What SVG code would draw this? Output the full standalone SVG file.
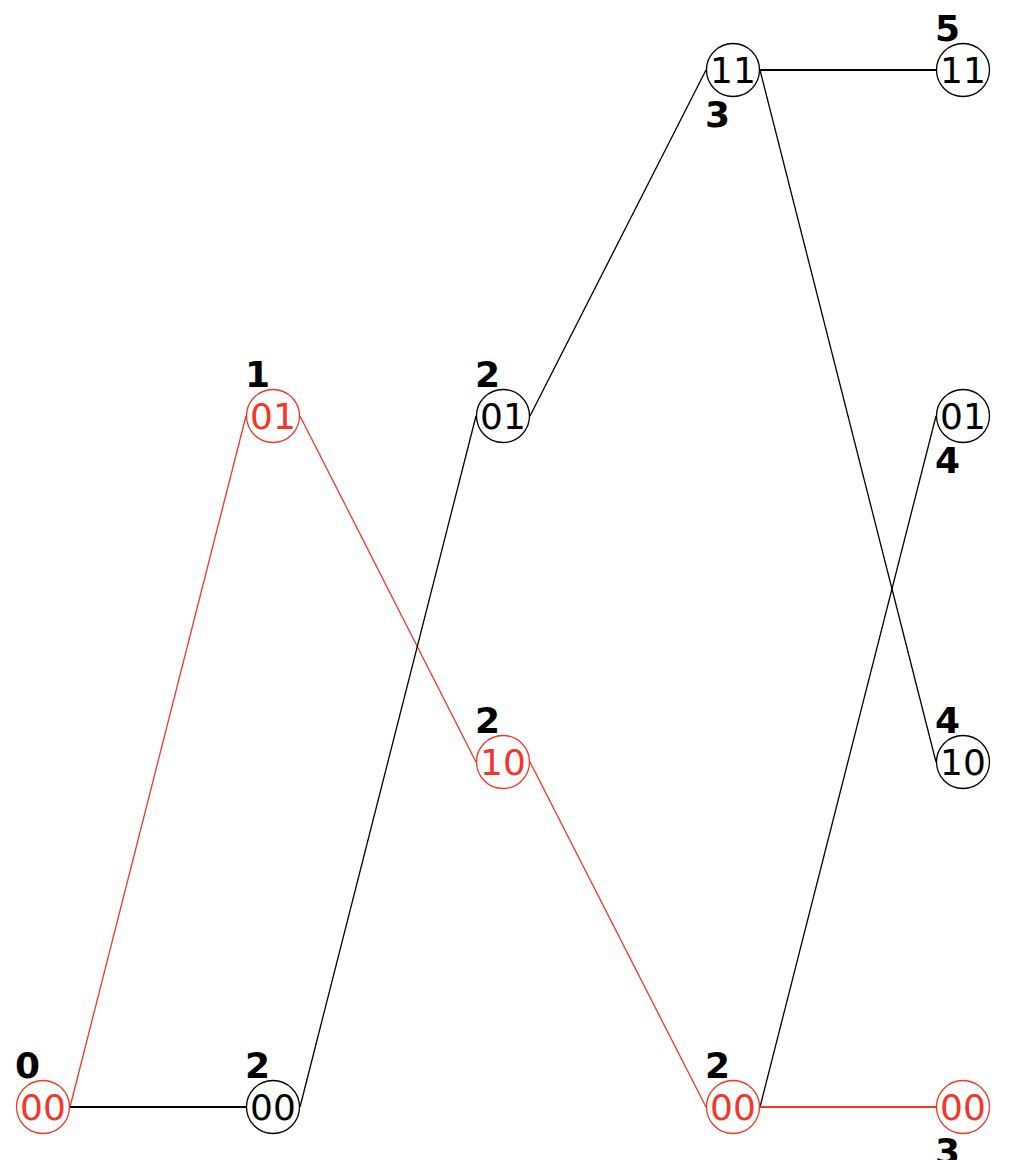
<svg xmlns="http://www.w3.org/2000/svg" width="1012" height="1160" viewBox="0 0 1012 1160">
<style>
.n{fill:#fff;stroke:#000;stroke-width:1.3}
.n.r{stroke:#f4362a}
.t{font-family:"DejaVu Sans",sans-serif;font-size:36px;text-anchor:middle;fill:#000}
.t.r{fill:#f4362a}
.l{font-family:"DejaVu Sans",sans-serif;font-size:36px;font-weight:bold;fill:#000}
.e{stroke:#000;stroke-width:1.3;fill:none}
.e.r{stroke:#f4362a}
.h{stroke-width:2.2}
</style>
<rect width="1012" height="1160" fill="#fff"/>
<g id="connectors">
<line class="e r" x1="70" y1="1107" x2="246" y2="416"/>
<line class="e h" x1="70" y1="1107" x2="246" y2="1107"/>
<line class="e r" x1="300" y1="416" x2="476" y2="762"/>
<line class="e" x1="300" y1="1107" x2="476" y2="416"/>
<line class="e" x1="530" y1="416" x2="706" y2="70"/>
<line class="e r" x1="530" y1="762" x2="706" y2="1107"/>
<line class="e h" x1="760" y1="70" x2="936" y2="70"/>
<line class="e" x1="760" y1="70" x2="936" y2="762"/>
<line class="e" x1="760" y1="1107" x2="936" y2="416"/>
<line class="e r h" x1="760" y1="1107" x2="936" y2="1107"/>
</g>
<g id="n0_00"><circle class="n r" cx="43" cy="1107" r="26.5"/><text class="t r" x="43" y="1120">00</text><text class="l" x="15" y="1078">0</text></g>
<g id="n1_01"><circle class="n r" cx="273" cy="416" r="26.5"/><text class="t r" x="273" y="429">01</text><text class="l" x="245" y="387">1</text></g>
<g id="n1_00"><circle class="n" cx="273" cy="1107" r="26.5"/><text class="t" x="273" y="1120">00</text><text class="l" x="245" y="1078">2</text></g>
<g id="n2_01"><circle class="n" cx="503" cy="416" r="26.5"/><text class="t" x="503" y="429">01</text><text class="l" x="475" y="387">2</text></g>
<g id="n2_10"><circle class="n r" cx="503" cy="762" r="26.5"/><text class="t r" x="503" y="775">10</text><text class="l" x="475" y="733">2</text></g>
<g id="n3_11"><circle class="n" cx="733" cy="70" r="26.5"/><text class="t" x="733" y="83">11</text><text class="l" x="705" y="127">3</text></g>
<g id="n3_00"><circle class="n r" cx="733" cy="1107" r="26.5"/><text class="t r" x="733" y="1120">00</text><text class="l" x="705" y="1078">2</text></g>
<g id="n4_11"><circle class="n" cx="963" cy="70" r="26.5"/><text class="t" x="963" y="83">11</text><text class="l" x="935" y="41">5</text></g>
<g id="n4_01"><circle class="n" cx="963" cy="416" r="26.5"/><text class="t" x="963" y="429">01</text><text class="l" x="935" y="473">4</text></g>
<g id="n4_10"><circle class="n" cx="963" cy="762" r="26.5"/><text class="t" x="963" y="775">10</text><text class="l" x="935" y="733">4</text></g>
<g id="n4_00"><circle class="n r" cx="963" cy="1107" r="26.5"/><text class="t r" x="963" y="1120">00</text><text class="l" x="935" y="1164">3</text></g>
</svg>
